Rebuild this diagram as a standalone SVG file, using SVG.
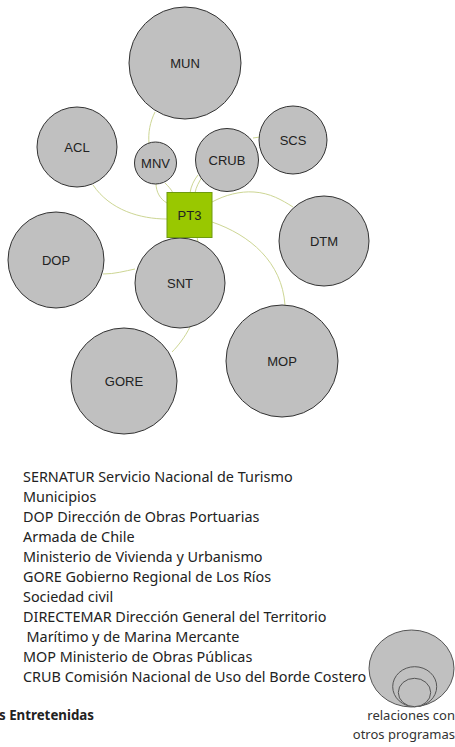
<svg xmlns="http://www.w3.org/2000/svg" width="455" height="747" viewBox="0 0 455 747">
<style>
.n{fill:#c0c0c0;stroke:#333;stroke-width:1}
.lbl{font-family:"Liberation Sans",Arial,sans-serif;font-size:13px;fill:#222;text-anchor:middle}
.c{fill:none;stroke:#cdd694;stroke-width:1}
.leg{font-family:"Noto Sans","Open Sans",sans-serif;font-size:14.4px;fill:#222}
.lc{fill:#c0c0c0;stroke:#555;stroke-width:1}
.sm{font-family:"Noto Sans","Open Sans",sans-serif;font-size:13px;fill:#333;text-anchor:end}
</style>
<rect width="455" height="747" fill="#fff"/>
<g id="connectors">
<path class="c" d="M155,112 C150,122 148,133 149,143"/>
<path class="c" d="M156,183 C156,192 160,199 167,203"/>
<path class="c" d="M165,183 C168,186 171,189 173,193"/>
<path class="c" d="M198,175 C194,180 191,186 190,193"/>
<path class="c" d="M202,177 C199,182 196,187 195,193"/>
<path class="c" d="M253,138 L260,137"/>
<path class="c" d="M93,185 C110,210 140,219 167,219"/>
<path class="c" d="M212,202 C225,195 240,191 254,192 C270,193 282,200 293,207"/>
<path class="c" d="M212,222 C250,235 282,262 285,305"/>
<path class="c" d="M197,237 L198,242"/>
<path class="c" d="M103,274 C115,274 125,271 135,269"/>
<path class="c" d="M190,327 C185,337 178,346 172,352"/>
</g>
<g id="MUN"><circle class="n" cx="185" cy="63" r="56"/><text class="lbl" x="185" y="68">MUN</text></g>
<g id="ACL"><circle class="n" cx="77" cy="147" r="40"/><text class="lbl" x="77" y="152">ACL</text></g>
<g id="MNV"><circle class="n" cx="155.5" cy="163" r="21"/><text class="lbl" x="155.5" y="168">MNV</text></g>
<g id="CRUB"><circle class="n" cx="227" cy="160" r="31.5"/><text class="lbl" x="227" y="165">CRUB</text></g>
<g id="SCS"><circle class="n" cx="293" cy="140" r="34"/><text class="lbl" x="293" y="145">SCS</text></g>
<g id="DTM"><circle class="n" cx="324" cy="241" r="45"/><text class="lbl" x="324" y="246">DTM</text></g>
<g id="DOP"><circle class="n" cx="56" cy="260" r="48"/><text class="lbl" x="56" y="265">DOP</text></g>
<g id="SNT"><circle class="n" cx="180" cy="283" r="45"/><text class="lbl" x="180" y="288">SNT</text></g>
<g id="GORE"><circle class="n" cx="124" cy="381" r="53"/><text class="lbl" x="124" y="386">GORE</text></g>
<g id="MOP"><circle class="n" cx="282" cy="361" r="56"/><text class="lbl" x="282" y="366">MOP</text></g>
<g id="PT3"><rect x="167" y="192.5" width="45" height="45" fill="#99c800" stroke="#6e9a10" stroke-width="1"/><text class="lbl" x="189.5" y="220">PT3</text></g>
<g id="legend">
<text class="leg" x="23" y="482">SERNATUR Servicio Nacional de Turismo</text>
<text class="leg" x="23" y="502">Municipios</text>
<text class="leg" x="23" y="522">DOP Dirección de Obras Portuarias</text>
<text class="leg" x="23" y="542">Armada de Chile</text>
<text class="leg" x="23" y="562">Ministerio de Vivienda y Urbanismo</text>
<text class="leg" x="23" y="582">GORE Gobierno Regional de Los Ríos</text>
<text class="leg" x="23" y="602">Sociedad civil</text>
<text class="leg" x="23" y="622">DIRECTEMAR Dirección General del Territorio</text>
<text class="leg" x="26.5" y="642">Marítimo y de Marina Mercante</text>
<text class="leg" x="23" y="662">MOP Ministerio de Obras Públicas</text>
<text class="leg" x="23" y="682">CRUB Comisión Nacional de Uso del Borde Costero</text>
<text class="leg" x="-1" y="720" font-weight="bold" style="font-size:13.3px">s Entretenidas</text>
</g>
<g id="legend-size">
<ellipse class="lc" cx="411.5" cy="668.5" rx="42.5" ry="38.5"/>
<ellipse class="lc" cx="414.7" cy="686.7" rx="22" ry="20"/>
<ellipse class="lc" cx="414.5" cy="692.5" rx="16.2" ry="14.2"/>
<text class="sm" x="455" y="720">relaciones con</text>
<text class="sm" x="455" y="738.5">otros programas</text>
</g>
</svg>
